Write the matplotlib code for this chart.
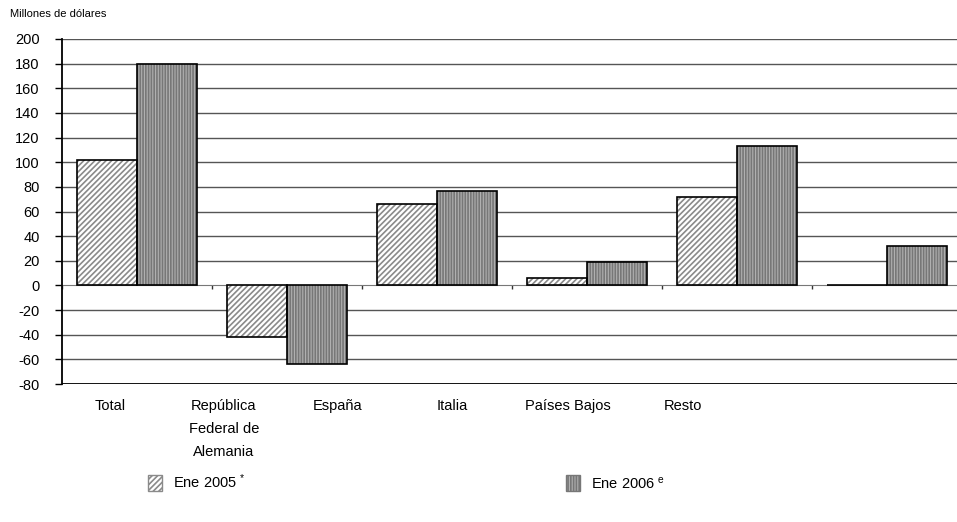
import matplotlib.pyplot as plt
from matplotlib.patches import Patch
import numpy as np

plt.rcParams['font.family'] = ['Liberation Sans', 'DejaVu Sans']
plt.rcParams['mathtext.fontset'] = 'custom'
plt.rcParams['mathtext.rm'] = 'Liberation Sans'
plt.rcParams['mathtext.it'] = 'Liberation Sans'
plt.rcParams['axes.unicode_minus'] = False
plt.rcParams['hatch.linewidth'] = 1.2

# values (millones de dolares)
ene_2005 = [102, -42, 66, 6, 72, 0]
ene_2006 = [180, -64, 77, 19, 113, 32]
categorias = ['Total', 'República\nFederal de\nAlemania', 'España', 'Italia', 'Países Bajos', 'Resto']
label_x = [0.32, 1.08, 1.84, 2.6, 3.37, 4.14]
yticks = list(range(-80, 201, 20))

fig = plt.figure(figsize=(9.57, 5.22), dpi=100)
ax = fig.add_axes([62/957, 138/522, 900/957, 345/522])

x = np.arange(len(ene_2005))
w = 0.4
# 2005: diagonal hatch on white
ax.bar(x + 0.1, ene_2005, w, align='edge', color='white', hatch='//////',
       edgecolor='#8a8a8a', linewidth=0, zorder=3)
ax.bar(x + 0.1, ene_2005, w, align='edge', fill=False, edgecolor='black', linewidth=1.2, zorder=4)
# 2006: dense gray texture
ax.bar(x + 0.5, ene_2006, w, align='edge', color='#b0b0b0', hatch='||||||',
       edgecolor='#777777', linewidth=0, zorder=3)
ax.bar(x + 0.5, ene_2006, w, align='edge', fill=False, edgecolor='black', linewidth=1.2, zorder=4)

ax.set_xlim(0, 6)
ax.set_ylim(-80, 200)
ax.set_yticks(yticks)
ax.tick_params(axis='y', labelsize=10.5, length=5, width=1, pad=11)
for yv in yticks[1:]:
    if yv != 0:
        ax.axhline(yv, color='#555555', linewidth=1, zorder=1)

ax.spines['top'].set_visible(False)
ax.spines['right'].set_visible(False)
ax.spines['left'].set_linewidth(1.3)
ax.spines['bottom'].set_position(('data', 0))
ax.spines['bottom'].set_color('#777777')
ax.spines['bottom'].set_zorder(2)
ax.axhline(-80, color='black', linewidth=1.3, zorder=2)
ax.set_xticks(np.arange(0, 7))
ax.set_xticklabels([])
ax.tick_params(axis='x', length=3, width=1, color='#333333', direction='out')

for lx, lab in zip(label_x, categorias):
    ax.text(lx, -0.044, lab, transform=ax.get_xaxis_transform(), ha='center', va='top',
            fontsize=10.5, linespacing=1.8)

fig.text(10/957, 1 - 14/522, 'Millones de dólares', fontsize=8, va='center', ha='left')

h1 = Patch(facecolor='white', edgecolor='#8a8a8a', hatch='//////', linewidth=0)
h2 = Patch(facecolor='#b0b0b0', edgecolor='#777777', hatch='||||||', linewidth=0)
leg = fig.legend([h1, h2], [r'Ene 2005 $^{*}$', r'Ene 2006 $^{\mathrm{e}}$'],
                 loc='center left', bbox_to_anchor=(135/957, 1 - 482/522), ncol=2,
                 frameon=False, fontsize=10.5, handlelength=0.95, handleheight=1.3,
                 handletextpad=0.75, columnspacing=21.95)
for p in leg.get_patches():
    p.set_linewidth(1)

fig.savefig('out.png', dpi=100)
